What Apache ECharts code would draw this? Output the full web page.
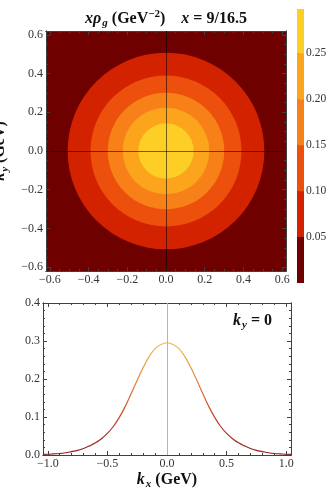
<!DOCTYPE html>
<html><head><meta charset="utf-8">
<script src="https://cdn.jsdelivr.net/npm/echarts@6/dist/echarts.min.js"></script>
<style>html,body{margin:0;padding:0;background:#fff}#c{width:332px;height:493px}</style>
</head><body><div id="c"></div>
<script>
// ---- data ----
const contourLevels = [0.05, 0.10, 0.15, 0.20, 0.25];
const contourRadii = [0.508, 0.390, 0.301, 0.224, 0.143];
const bandColors = ['#6f0000', '#d22200', '#ec500c', '#f78118', '#fba41c', '#fdcf26'];
const colorbarEdges = [0, 0.05, 0.10, 0.15, 0.20, 0.25, 0.298];
const colorbarTicks = [0.05, 0.10, 0.15, 0.20, 0.25];

const topTicks = [-0.6, -0.4, -0.2, 0, 0.2, 0.4, 0.6];
const topMinorTicks = [-0.55, -0.5, -0.45, -0.35, -0.3, -0.25, -0.15, -0.1, -0.05, 0.05, 0.1, 0.15, 0.25, 0.3, 0.35, 0.45, 0.5, 0.55];

const kx = [-1.04, -1, -0.95, -0.9, -0.85, -0.8, -0.75, -0.7, -0.65, -0.6, -0.55, -0.5, -0.45, -0.4, -0.35, -0.3, -0.25, -0.2, -0.15, -0.1, -0.05, 0, 0.05, 0.1, 0.15, 0.2, 0.25, 0.3, 0.35, 0.4, 0.45, 0.5, 0.55, 0.6, 0.65, 0.7, 0.75, 0.8, 0.85, 0.9, 0.95, 1, 1.04];
const rhoKy0 = [0.0015, 0.002, 0.003, 0.004, 0.006, 0.009, 0.012, 0.017, 0.024, 0.032, 0.043, 0.057, 0.075, 0.099, 0.128, 0.162, 0.197, 0.230, 0.259, 0.280, 0.291, 0.295, 0.291, 0.280, 0.259, 0.230, 0.197, 0.162, 0.128, 0.099, 0.075, 0.057, 0.043, 0.032, 0.024, 0.017, 0.012, 0.009, 0.006, 0.004, 0.003, 0.002, 0.0015];

const bottomXTicks = [-1, -0.5, 0, 0.5, 1];
const bottomXMinor = [-0.9, -0.8, -0.7, -0.6, -0.4, -0.3, -0.2, -0.1, 0.1, 0.2, 0.3, 0.4, 0.6, 0.7, 0.8, 0.9];
const bottomYTicks = [0, 0.1, 0.2, 0.3, 0.4];
const bottomYMinor = [0.02, 0.04, 0.06, 0.08, 0.12, 0.14, 0.16, 0.18, 0.22, 0.24, 0.26, 0.28, 0.32, 0.34, 0.36, 0.38];

// ---- style helpers ----
const FONT = '"Liberation Serif", "DejaVu Serif", serif';
const FRAME = '#404040';
const LABEL = '#333';
function fmt(d) { return v => (v < -1e-9 ? '\u2212' : '') + Math.abs(v).toFixed(d); }
function makeRich(fs) {
  const sfs = Math.round(fs * 0.7);
  return {
    i: { fontFamily: FONT, fontStyle: 'italic', fontWeight: 'bold', fontSize: fs, color: '#111' },
    b: { fontFamily: FONT, fontWeight: 'bold', fontSize: fs, color: '#111' },
    sub: { fontFamily: FONT, fontStyle: 'italic', fontWeight: 'bold', fontSize: sfs, color: '#111', padding: [9, 0, 0, 1] },
    sup: { fontFamily: FONT, fontWeight: 'bold', fontSize: sfs, color: '#111', padding: [0, 0, 9, 0] }
  };
}
const rich = makeRich(16);
function axis(gridIndex, pos, min, max, ticks, len, labelFmt, extra) {
  return Object.assign({
    type: 'value', gridIndex: gridIndex, position: pos, min: min, max: max,
    axisLine: { show: true, onZero: false, lineStyle: { color: FRAME, width: 1 } },
    axisTick: { show: true, inside: true, length: len, customValues: ticks, lineStyle: { color: FRAME, width: 1 } },
    axisLabel: labelFmt ? { show: true, customValues: ticks, formatter: labelFmt, margin: 3, color: LABEL, fontFamily: FONT, fontSize: 12 } : { show: false },
    splitLine: { show: false }
  }, extra || {});
}
function frameAxes(g, xr, yr, xT, xM, yT, yM, xd, yd, xExtra, yExtra) {
  return {
    x: [axis(g, 'bottom', xr[0], xr[1], xT, 4, fmt(xd), xExtra),
        axis(g, 'bottom', xr[0], xr[1], xM, 2, null),
        axis(g, 'top', xr[0], xr[1], xT, 4, null),
        axis(g, 'top', xr[0], xr[1], xM, 2, null)],
    y: [axis(g, 'left', yr[0], yr[1], yT, 4, fmt(yd), yExtra),
        axis(g, 'left', yr[0], yr[1], yM, 2, null),
        axis(g, 'right', yr[0], yr[1], yT, 4, null),
        axis(g, 'right', yr[0], yr[1], yM, 2, null)]
  };
}

const topAx = frameAxes(0, [-0.62, 0.62], [-0.62, 0.62], topTicks, topMinorTicks, topTicks, topMinorTicks, 1, 1, null,
  { name: '{i|k}{sub|y}{b| (GeV)}', nameLocation: 'middle', nameRotate: 90, nameGap: 24, nameTextStyle: { rich: rich } });
const botAx = frameAxes(1, [-1.04, 1.04], [0, 0.4], bottomXTicks, bottomXMinor, bottomYTicks, bottomYMinor, 1, 1,
  { name: '{i|k}{sub|x}{b| (GeV)}', nameLocation: 'middle', nameGap: 15, nameTextStyle: { rich: rich } }, null);

const cbX = { type: 'value', gridIndex: 2, min: 0, max: 1, show: false };
const cbY = {
  type: 'value', gridIndex: 2, position: 'right', min: colorbarEdges[0], max: colorbarEdges[colorbarEdges.length - 1],
  axisLine: { show: false },
  axisTick: { show: true, inside: false, length: 2, customValues: colorbarTicks, lineStyle: { color: FRAME } },
  axisLabel: { show: true, customValues: colorbarTicks, formatter: v => v.toFixed(2), margin: 2, color: LABEL, fontFamily: FONT, fontSize: 11.5 },
  splitLine: { show: false }
};

const chart = echarts.init(document.getElementById('c'), null, { renderer: 'canvas' });
chart.setOption({
  animation: false,
  backgroundColor: '#fff',
  title: [
    { text: '{i|x\u03c1}{sub|g}{b| (GeV}{sup|\u22122}{b|)    }{i|x}{b| = 9/16.5}', left: 'center', top: 4, textStyle: { rich: rich } },
    { text: '{i|k}{sub|y}{b| = 0}', right: 55, top: 306, textStyle: { rich: rich } }
  ],
  grid: [
    { left: 46, top: 31, width: 240, height: 240, show: true, backgroundColor: bandColors[0], borderWidth: 0, outerBoundsMode: 'none', containLabel: false },
    { left: 43, top: 303, width: 248, height: 152, outerBoundsMode: 'none', containLabel: false },
    { left: 297, top: 9, width: 7, height: 274, outerBoundsMode: 'none', containLabel: false }
  ],
  xAxis: topAx.x.concat(botAx.x, [cbX]),
  yAxis: topAx.y.concat(botAx.y, [cbY]),
  visualMap: [{
    type: 'continuous', show: false, seriesIndex: 1, dimension: 1, min: 0, max: 0.3,
    inRange: { color: ['#8c1c1c', '#c84428', '#e5843a', '#edc050'] }
  }],
  series: [
    {
      type: 'custom', xAxisIndex: 0, yAxisIndex: 0, silent: true,
      data: contourRadii.map((r, i) => [0, 0, r, i + 1, contourLevels[i]]),
      renderItem: function (params, api) {
        const c = api.coord([api.value(0), api.value(1)]);
        const s = api.size([api.value(2), api.value(2)]);
        return { type: 'circle', shape: { cx: c[0], cy: c[1], r: (s[0] + s[1]) / 2 }, style: { fill: bandColors[api.value(3)], stroke: null } };
      },
      markLine: {
        silent: true, symbol: ['none', 'none'], label: { show: false },
        lineStyle: { color: 'rgba(0,0,0,0.55)', width: 1, type: 'solid' },
        data: [{ xAxis: 0 }, { yAxis: 0 }]
      }
    },
    {
      type: 'line', xAxisIndex: 4, yAxisIndex: 4, silent: true,
      data: kx.map((x, i) => [x, rhoKy0[i]]),
      showSymbol: false, smooth: 0.4, lineStyle: { width: 1.2 }, z: 3,
      markLine: {
        silent: true, symbol: ['none', 'none'], label: { show: false },
        lineStyle: { color: '#b4b4b4', width: 1, type: 'solid' },
        data: [{ xAxis: 0 }]
      }
    },
    {
      type: 'custom', xAxisIndex: 8, yAxisIndex: 8, silent: true,
      data: bandColors.map((col, i) => [colorbarEdges[i], colorbarEdges[i + 1], i]),
      renderItem: function (params, api) {
        const p0 = api.coord([0, api.value(0)]);
        const p1 = api.coord([1, api.value(1)]);
        return { type: 'rect', shape: { x: p0[0], y: p1[1], width: p1[0] - p0[0], height: p0[1] - p1[1] }, style: { fill: bandColors[api.value(2)] } };
      }
    }
  ]
});
</script>
</body></html>
